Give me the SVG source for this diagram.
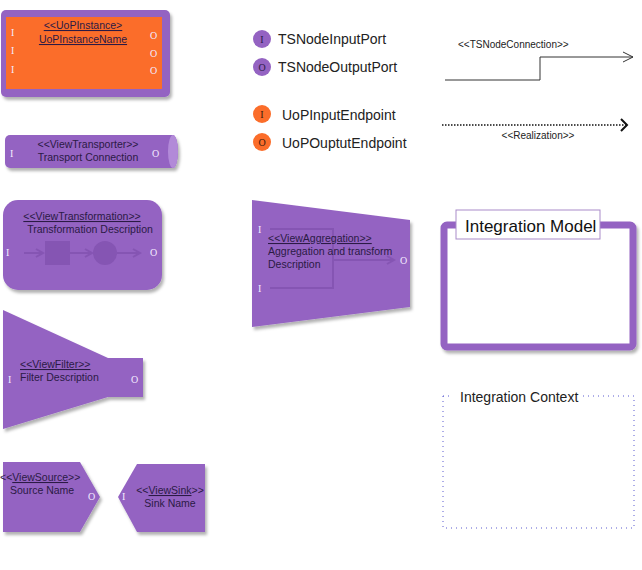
<svg xmlns="http://www.w3.org/2000/svg" width="642" height="570" viewBox="0 0 642 570">
<style>
.p{fill:#9463c2}
.o{fill:#fb6d2a}
.t{font-family:"Liberation Sans",Arial,sans-serif;font-size:10.5px;fill:#2b1a45}
.u{text-decoration:underline}
.port{font-family:"Liberation Serif",serif;font-size:10px;fill:#f3ebff}
.lg{font-family:"Liberation Sans",Arial,sans-serif;font-size:14px;fill:#222}
.faint{fill:none;stroke:#8555b3;stroke-width:2}
</style>
<defs>
<filter id="sh" x="-10%" y="-10%" width="130%" height="130%">
<feDropShadow dx="2" dy="3" stdDeviation="1.5" flood-color="#000" flood-opacity="0.3"/>
</filter>
<marker id="open" markerWidth="12" markerHeight="12" refX="11" refY="6" orient="auto" markerUnits="userSpaceOnUse">
<path d="M1,1 L11,6 L1,11" fill="none" stroke="#333" stroke-width="1"/>
</marker>
<marker id="chev" markerWidth="12" markerHeight="14" refX="9" refY="7" orient="auto" markerUnits="userSpaceOnUse">
<path d="M3,1 L9,7 L3,13" fill="none" stroke="#111" stroke-width="2"/>
</marker>
<marker id="fa" markerWidth="10" markerHeight="10" refX="8" refY="5" orient="auto" markerUnits="userSpaceOnUse">
<path d="M1,1 L8,5 L1,9" fill="none" stroke="#8555b3" stroke-width="2"/>
</marker>
</defs>
<rect width="642" height="570" fill="#fff"/>

<g id="uopInstance">
<rect x="1" y="10" width="169" height="87" rx="5" class="p" filter="url(#sh)"/>
<rect x="6" y="17" width="156" height="72" class="o"/>
<text x="83" y="29" text-anchor="middle" class="t u">&lt;&lt;UoPInstance&gt;</text>
<text x="83" y="43" text-anchor="middle" class="t u">UoPInstanceName</text>
<text x="11" y="36" class="port">I</text>
<text x="11" y="54" class="port">I</text>
<text x="11" y="73" class="port">I</text>
<text x="150" y="39" class="port">O</text>
<text x="150" y="57" class="port">O</text>
<text x="150" y="74" class="port">O</text>
</g>

<g id="viewTransporter">
<path d="M10,135 H173 A5,16.5 0 0 1 173,168 H10 A5,5 0 0 1 5,163 V140 A5,5 0 0 1 10,135 Z" class="p" filter="url(#sh)"/>
<ellipse cx="173" cy="151.5" rx="5" ry="16.5" fill="#b28ad8"/>
<text x="88" y="148" text-anchor="middle" class="t">&lt;&lt;ViewTransporter&gt;&gt;</text>
<text x="88" y="161" text-anchor="middle" class="t">Transport Connection</text>
<text x="10" y="157" class="port">I</text>
<text x="152" y="157" class="port">O</text>
</g>

<g id="viewTransformation">
<rect x="3" y="200" width="159" height="90" rx="15" class="p" filter="url(#sh)"/>
<line x1="24" y1="253" x2="43" y2="253" class="faint" marker-end="url(#fa)"/>
<rect x="45" y="241" width="25" height="24" fill="#8555b3"/>
<line x1="70" y1="253" x2="92" y2="253" class="faint" marker-end="url(#fa)"/>
<circle cx="105" cy="253" r="12" fill="#8555b3"/>
<line x1="117" y1="253" x2="140" y2="253" class="faint" marker-end="url(#fa)"/>
<text x="82" y="220" text-anchor="middle" class="t u">&lt;&lt;ViewTransformation&gt;&gt;</text>
<text x="90" y="233" text-anchor="middle" class="t">Transformation Description</text>
<text x="6" y="256" class="port">I</text>
<text x="150" y="256" class="port">O</text>
</g>

<g id="viewFilter">
<path d="M3,310 L108,358 H143 V397 H108 L3,429 Z" class="p" filter="url(#sh)"/>
<text x="20" y="368" class="t u">&lt;&lt;ViewFilter&gt;&gt;</text>
<text x="20" y="381" class="t">Filter Description</text>
<text x="8" y="383" class="port">I</text>
<text x="131" y="383" class="port">O</text>
</g>

<g id="viewSource">
<path d="M3,462 H80 L100,497 L80,532 H3 Z" class="p" filter="url(#sh)"/>
<text x="0" y="481" class="t">&lt;&lt;<tspan class="u">ViewSource</tspan>&gt;&gt;</text>
<text x="10" y="494" class="t">Source Name</text>
<text x="88" y="500" class="port">O</text>
</g>

<g id="viewSink">
<path d="M137,464 H205 V532 H137 L118,497 Z" class="p" filter="url(#sh)"/>
<text x="170" y="494" text-anchor="middle" class="t">&lt;&lt;<tspan class="u">ViewSink</tspan>&gt;&gt;</text>
<text x="170" y="507" text-anchor="middle" class="t">Sink Name</text>
<text x="122" y="500" class="port">I</text>
</g>

<g id="legend">
<circle cx="262" cy="39" r="9" class="p"/>
<text x="262" y="43" text-anchor="middle" class="port" style="fill:#2b1a45">I</text>
<text x="278" y="44" class="lg">TSNodeInputPort</text>
<circle cx="262" cy="67" r="9" class="p"/>
<text x="262" y="71" text-anchor="middle" class="port" style="fill:#2b1a45">O</text>
<text x="278" y="72" class="lg">TSNodeOutputPort</text>
<circle cx="262" cy="114" r="9" class="o"/>
<text x="262" y="118" text-anchor="middle" class="port" style="fill:#3a1a0a">I</text>
<text x="282" y="120" class="lg">UoPInputEndpoint</text>
<circle cx="262" cy="142" r="9" class="o"/>
<text x="262" y="146" text-anchor="middle" class="port" style="fill:#3a1a0a">O</text>
<text x="282" y="148" class="lg">UoPOuptutEndpoint</text>
</g>

<g id="connectors">
<path d="M445,80 H540 V57 H633" fill="none" stroke="#333" stroke-width="1" marker-end="url(#open)"/>
<text x="458" y="48" style="font-family:'Liberation Sans',Arial,sans-serif;font-size:10px;fill:#222">&lt;&lt;TSNodeConnection&gt;&gt;</text>
<line x1="442" y1="125" x2="627" y2="125" stroke="#111" stroke-width="1.5" stroke-dasharray="1.5,1.5" marker-end="url(#chev)"/>
<text x="538" y="139" text-anchor="middle" style="font-family:'Liberation Sans',Arial,sans-serif;font-size:10px;fill:#222">&lt;&lt;Realization&gt;&gt;</text>
</g>

<g id="viewAggregation">
<path d="M252,200 L410,220 V307 L252,327 Z" class="p" filter="url(#sh)"/>
<path d="M270,229 H333 V288 H270" class="faint"/>
<line x1="333" y1="260" x2="394" y2="260" class="faint" marker-end="url(#fa)"/>
<text x="268" y="242" class="t u">&lt;&lt;ViewAggregation&gt;&gt;</text>
<text x="268" y="255" class="t">Aggregation and transform</text>
<text x="268" y="268" class="t">Description</text>
<text x="258" y="233" class="port">I</text>
<text x="258" y="292" class="port">I</text>
<text x="400" y="264" class="port">O</text>
</g>

<g id="integrationModel">
<rect x="444" y="225" width="189" height="122" rx="3" fill="#fff" stroke="#9463c2" stroke-width="7" filter="url(#sh)"/>
<rect x="456" y="210" width="144" height="29" fill="#fff" stroke="#a98bc9" stroke-width="1"/>
<text x="465" y="232" style="font-family:'Liberation Sans',Arial,sans-serif;font-size:17px;fill:#111">Integration Model</text>
</g>

<g id="integrationContext">
<rect x="443" y="396" width="191" height="132" fill="none" stroke="#5a5ad0" stroke-width="1" stroke-dasharray="1,4"/>
<rect x="452" y="388" width="128" height="16" fill="#fff"/>
<text x="460" y="402" class="lg">Integration Context</text>
</g>
</svg>
